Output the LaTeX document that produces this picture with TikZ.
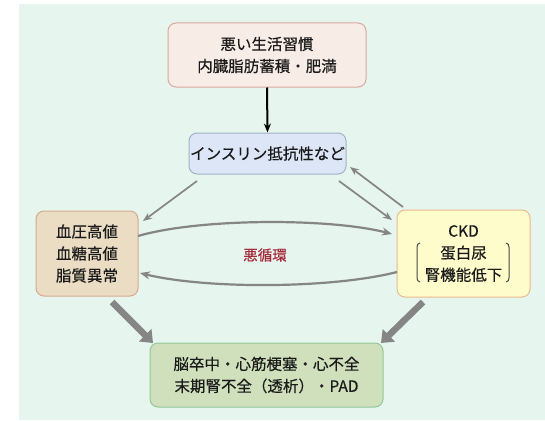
\documentclass[tikz,border=0pt]{standalone}
\usepackage{fontspec}
\newfontfamily\jp[FakeBold=0.4]{Noto Sans CJK JP}
\usetikzlibrary{arrows.meta,calc}
\definecolor{bgc}{HTML}{E6F5EE}
\definecolor{topf}{HTML}{F8ECE6}
\definecolor{topd}{HTML}{D9A8A0}
\definecolor{insf}{HTML}{DCE6F6}
\definecolor{insd}{HTML}{A0B4C8}
\definecolor{leftf}{HTML}{EADDC3}
\definecolor{leftd}{HTML}{D5A990}
\definecolor{rightf}{HTML}{FFFCCB}
\definecolor{rightd}{HTML}{EBB98F}
\definecolor{botf}{HTML}{D0E0BC}
\definecolor{botd}{HTML}{90C898}
\definecolor{arrg}{HTML}{858585}
\definecolor{redt}{HTML}{A52A3A}
\definecolor{txt}{HTML}{1A1A1A}
\tikzset{
  box/.style={draw, rounded corners=8pt, line width=1pt, align=center, inner sep=0pt,
    font=\jp\fontsize{15.5}{22}\selectfont, text=txt},
  thin/.style={draw=arrg, line width=1.7pt, -{Stealth[length=9pt,width=7pt]}},
  cyc/.style={draw=arrg, line width=2.2pt, -{Stealth[length=10pt,width=8pt]}},
  thick/.style={draw=arrg, line width=6.5pt, -{Triangle[length=11pt,width=17pt]}},
  brk/.style={draw=txt!80, line width=1pt}
}
\begin{document}
\begin{tikzpicture}[x=1pt,y=-1pt]
\useasboundingbox (0,0) rectangle (545,420);
\fill[bgc] (19,4) rectangle (545,420);

\node[box, fill=topf, draw=topd, minimum width=198pt, minimum height=64pt] (top) at (267,55) {悪い生活習慣\\内臓脂肪蓄積・肥満};
\node[box, fill=insf, draw=insd, minimum width=157pt, minimum height=41pt] (ins) at (267.5,153.5) {インスリン抵抗性など};
\node[box, fill=leftf, draw=leftd, minimum width=102pt, minimum height=85pt] (left) at (87,253.5) {血圧高値\\血糖高値\\脂質異常};
\node[box, fill=rightf, draw=rightd, minimum width=133pt, minimum height=87pt] (right) at (463.5,253.5) {CKD\\蛋白尿\\腎機能低下};
\node[box, fill=botf, draw=botd, minimum width=233pt, minimum height=64pt] (bot) at (266.5,375) {脳卒中・心筋梗塞・心不全\\末期腎不全（透析）・PAD};

% brackets in right box
\draw[brk] (420,243) to[out=180,in=90] (417,247) -- (417,278) to[out=-90,in=180] (420,282);
\draw[brk] (506,243) to[out=0,in=90] (509,247) -- (509,278) to[out=-90,in=0] (506,282);

% black arrow
\draw[line width=2pt, -{Stealth[length=9pt,width=7pt]}] (top.south) -- (ins.north);

% thin gray arrows
\coordinate (a1s) at (197,181);
\coordinate (a1e) at (143,221);
\coordinate (a2s) at (339,181);
\coordinate (a2e) at (392,220);
\coordinate (a3s) at (403,207);
\coordinate (a3e) at (350,167);
\draw[thin] (a1s) -- (a1e);
\draw[thin] (a2s) -- (a2e);
\draw[thin] (a3s) -- (a3e);

% vicious cycle curves
\coordinate (c1s) at (138,236);
\coordinate (c1e) at (392,234);
\coordinate (c2s) at (397,272);
\coordinate (c2e) at (140,273);
\draw[cyc] (c1s) .. controls (200,218) and (330,218) .. (c1e);
\draw[cyc] (c2s) .. controls (330,289) and (205,289) .. (c2e);
\node[font=\jp\fontsize{14.5}{16}\selectfont, text=redt] (vc) at (265,255) {悪循環};

% thick arrows
\coordinate (t1s) at (112,302);
\coordinate (t1e) at (153,343);
\coordinate (t2s) at (423,302);
\coordinate (t2e) at (381,343);
\draw[thick] (t1s) -- (t1e);
\draw[thick] (t2s) -- (t2e);
\end{tikzpicture}
\end{document}
